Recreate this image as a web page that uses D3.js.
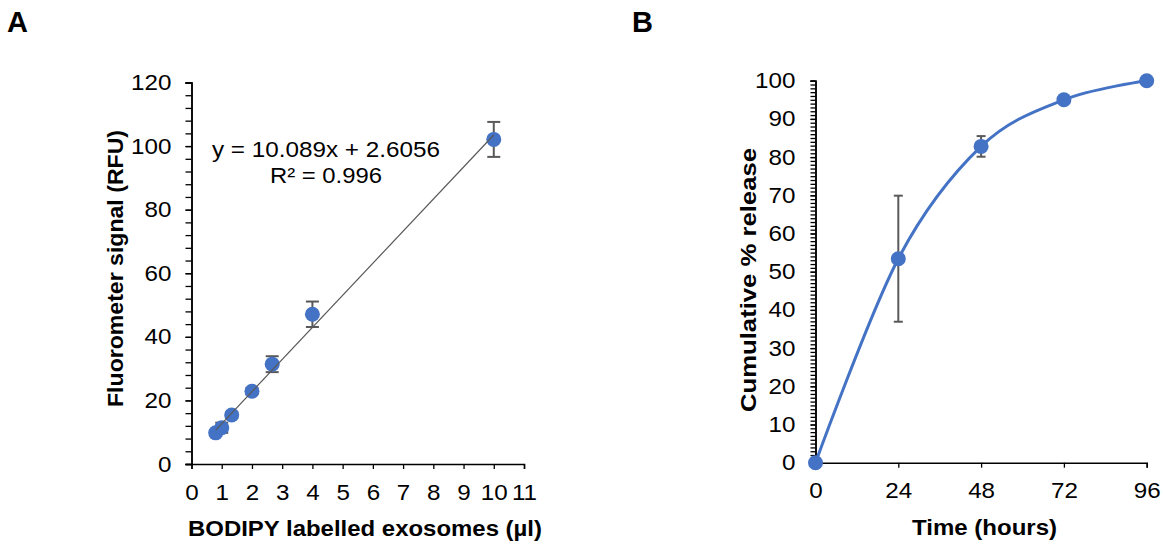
<!DOCTYPE html>
<html><head><meta charset="utf-8">
<script src="https://cdn.jsdelivr.net/npm/d3@7"></script>
<style>
body{margin:0;background:#fff;}
svg{display:block;}
text{font-family:"Liberation Sans",Arial,sans-serif;fill:#000;}
</style></head>
<body>
<svg id="c" width="1163" height="544"></svg>
<script>
// ---------- Data ----------
// Panel A
const aX = [0.8, 1, 1.33, 2, 2.67, 4, 10];
const aY = [9.8, 11.4, 15.4, 22.9, 31.4, 47.1, 102.1];
const aErr = [0.8, 1.6, 1.0, 1.0, 2.5, 4.0, 5.5];
const aTrend = [10.089, 2.6056]; // slope, intercept
const aEquation = ["y = 10.089x + 2.6056", "R² = 0.996"];
const aXTicks = [0,1,2,3,4,5,6,7,8,9,10,11];
const aYTicks = [0,20,40,60,80,100,120];
const aXTitle = "BODIPY labelled exosomes (µl)";
const aYTitle = "Fluorometer signal (RFU)";
// Panel B
const bX = [0, 24, 48, 72, 96];
const bY = [0, 53.4, 82.8, 95, 100];
const bErr = [0, 16.5, 2.7, 0, 0];
const bXTicks = [0,24,48,72,96];
const bYTicks = [0,10,20,30,40,50,60,70,80,90,100];
const bXTitle = "Time (hours)";
const bYTitle = "Cumulative % release";
const panelLabels = ["A", "B"];

// ---------- Drawing ----------
const svg = d3.select("#c");
const BLUE = "#4472C4", GREY = "#595959";
const FS = 22, SX = 1.1;

function stretch(sel, factor) {
  sel.each(function(){
    const w = this.getComputedTextLength();
    this.setAttribute("textLength", w * factor);
    this.setAttribute("lengthAdjust", "spacingAndGlyphs");
  });
}
function fitTo(sel, target) {
  sel.attr("textLength", target).attr("lengthAdjust", "spacingAndGlyphs");
}

// ===== Panel A =====
const ax = d3.scaleLinear().domain([0, 11]).range([191.5, 524]);
const ay = d3.scaleLinear().domain([0, 120]).range([464, 82.5]);
const gA = svg.append("g");

// minor y ticks (every 4)
const gAy = gA.append("g").attr("transform", `translate(${ax(0)},0)`)
  .call(d3.axisLeft(ay).tickValues(d3.range(0, 121, 4)).tickSize(6).tickFormat(""));
const gAyl = gA.append("g").attr("transform", `translate(${ax(0)},0)`)
  .call(d3.axisLeft(ay).tickValues(aYTicks).tickSize(6).tickPadding(14).tickFormat(d3.format("d")));
const gAx = gA.append("g").attr("transform", `translate(0,${ay(0)})`)
  .call(d3.axisBottom(ax).tickValues(aXTicks).tickSize(5).tickPadding(15).tickFormat(d3.format("d")));
[gAy, gAyl, gAx].forEach(g => {
  g.select(".domain").attr("stroke", "#000").attr("stroke-width", 1.5);
  g.selectAll(".tick line").attr("stroke", "#000").attr("stroke-width", 1.3);
  g.selectAll("text").attr("font-size", FS).attr("font-family", "Liberation Sans, Arial, sans-serif").attr("fill", "#000");
});
stretch(gAyl.selectAll("text"), SX);
stretch(gAx.selectAll("text"), SX);

// error bars A
const aData = aX.map((x, i) => ({x, y: aY[i], e: aErr[i]}));
const eA = gA.append("g").attr("stroke", GREY).attr("stroke-width", 2).attr("fill", "none");
aData.forEach(d => {
  eA.append("line").attr("x1", ax(d.x)).attr("x2", ax(d.x)).attr("y1", ay(d.y - d.e)).attr("y2", ay(d.y + d.e));
  [d.y - d.e, d.y + d.e].forEach(v =>
    eA.append("line").attr("x1", ax(d.x) - 6.5).attr("x2", ax(d.x) + 6.5).attr("y1", ay(v)).attr("y2", ay(v)));
});
// markers A
gA.append("g").selectAll("circle").data(aData).join("circle")
  .attr("cx", d => ax(d.x)).attr("cy", d => ay(d.y)).attr("r", 7.5).attr("fill", BLUE);
// trendline A
const tx0 = d3.min(aX), tx1 = d3.max(aX);
gA.append("line")
  .attr("x1", ax(tx0)).attr("y1", ay(aTrend[0] * tx0 + aTrend[1]))
  .attr("x2", ax(tx1)).attr("y2", ay(aTrend[0] * tx1 + aTrend[1]))
  .attr("stroke", GREY).attr("stroke-width", 1.2);
// equation
const eq1 = gA.append("text").attr("x", 326).attr("y", 157).attr("text-anchor", "middle").attr("font-size", FS).text(aEquation[0]);
fitTo(eq1, 228);
const eq2 = gA.append("text").attr("x", 326).attr("y", 183).attr("text-anchor", "middle").attr("font-size", FS).text(aEquation[1]);
fitTo(eq2, 112);
// titles A
const axt = gA.append("text").attr("x", 365).attr("y", 536).attr("text-anchor", "middle")
  .attr("font-size", FS).attr("font-weight", "bold").text(aXTitle);
fitTo(axt, 354);
const ayt = gA.append("text").attr("transform", "translate(123,268.5) rotate(-90)").attr("text-anchor", "middle")
  .attr("font-size", FS).attr("font-weight", "bold").text(aYTitle);
fitTo(ayt, 277);

// ===== Panel B =====
const bx = d3.scaleLinear().domain([0, 96]).range([815.5, 1146.7]);
const by = d3.scaleLinear().domain([0, 100]).range([462.7, 80.7]);
const gB = svg.append("g");
const gBy = gB.append("g").attr("transform", `translate(${bx(0)},0)`)
  .call(d3.axisLeft(by).tickValues(d3.range(0, 101, 1)).tickSize(5).tickFormat(""));
const gByl = gB.append("g").attr("transform", `translate(${bx(0)},0)`)
  .call(d3.axisLeft(by).tickValues(bYTicks).tickSize(5).tickPadding(15).tickFormat(d3.format("d")));
const gBx = gB.append("g").attr("transform", `translate(0,${by(0)})`)
  .call(d3.axisBottom(bx).tickValues(bXTicks).tickSize(5).tickPadding(15).tickFormat(d3.format("d")));
[gBy, gByl, gBx].forEach(g => {
  g.select(".domain").attr("stroke", "#000").attr("stroke-width", 1.5);
  g.selectAll(".tick line").attr("stroke", "#000").attr("stroke-width", 1.3);
  g.selectAll("text").attr("font-size", FS).attr("font-family", "Liberation Sans, Arial, sans-serif").attr("fill", "#000");
});
stretch(gByl.selectAll("text"), SX);
stretch(gBx.selectAll("text"), SX);

const bData = bX.map((x, i) => ({x, y: bY[i], e: bErr[i]}));
const eB = gB.append("g").attr("stroke", GREY).attr("stroke-width", 2).attr("fill", "none");
bData.filter(d => d.e > 0).forEach(d => {
  eB.append("line").attr("x1", bx(d.x)).attr("x2", bx(d.x)).attr("y1", by(d.y - d.e)).attr("y2", by(d.y + d.e));
  [d.y - d.e, d.y + d.e].forEach(v =>
    eB.append("line").attr("x1", bx(d.x) - 4.5).attr("x2", bx(d.x) + 4.5).attr("y1", by(v)).attr("y2", by(v)));
});
gB.append("path").datum(bData)
  .attr("d", d3.line().x(d => bx(d.x)).y(d => by(d.y)).curve(d3.curveCardinal.tension(0)))
  .attr("fill", "none").attr("stroke", BLUE).attr("stroke-width", 3);
gB.append("g").selectAll("circle").data(bData).join("circle")
  .attr("cx", d => bx(d.x)).attr("cy", d => by(d.y)).attr("r", 7.5).attr("fill", BLUE);

const bxt = gB.append("text").attr("x", 984.5).attr("y", 535).attr("text-anchor", "middle")
  .attr("font-size", FS).attr("font-weight", "bold").text(bXTitle);
fitTo(bxt, 145);
const byt = gB.append("text").attr("transform", "translate(756,280) rotate(-90)").attr("text-anchor", "middle")
  .attr("font-size", FS).attr("font-weight", "bold").text(bYTitle);
fitTo(byt, 264);

// panel labels
svg.append("text").attr("x", 7).attr("y", 32).attr("font-size", 29).attr("font-weight", "bold").text(panelLabels[0]);
svg.append("text").attr("x", 632).attr("y", 32).attr("font-size", 29).attr("font-weight", "bold").text(panelLabels[1]);
</script>
</body></html>
